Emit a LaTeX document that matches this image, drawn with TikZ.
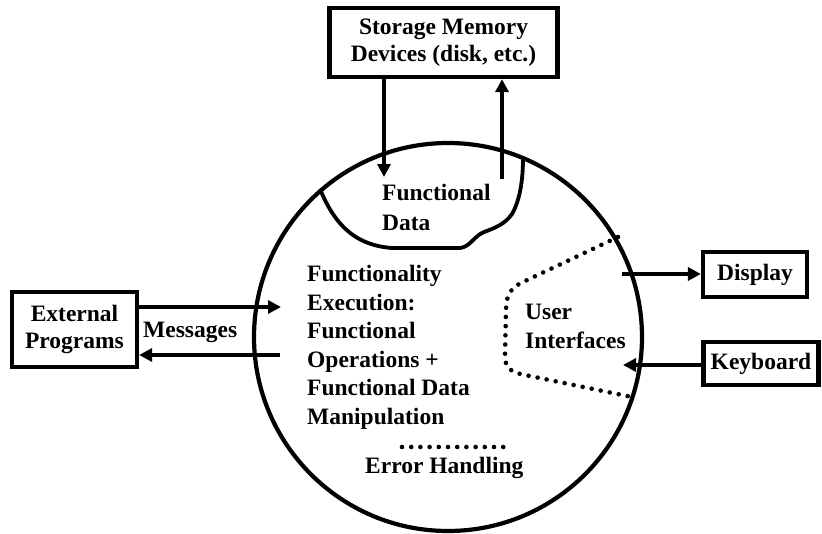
\documentclass[tikz,border=0pt]{standalone}
\usepackage{fontspec}
\setmainfont{Liberation Serif}
\usetikzlibrary{arrows.meta}
\begin{document}
\begin{tikzpicture}[x=1pt,y=-1pt,
  txt/.style={font=\bfseries\fontsize{23.5}{28.6}\selectfont, inner sep=0pt, align=left},
  boxnode/.style={draw, line width=4.2pt, font=\bfseries\fontsize{23.5}{27}\selectfont, align=center, inner sep=0pt},
  arr/.style={line width=4.2pt, -{Triangle[length=13pt,width=13pt]}},
  dots/.style={line width=4.6pt, line cap=round, dash pattern=on 0pt off 9.2pt}]
\useasboundingbox (0,0) rectangle (822,533);
% main circle
\node[draw, circle, line width=4.2pt, minimum size=388pt, inner sep=0pt] (sys) at (448,337) {};
% boxes
\node[boxnode, minimum width=228pt, minimum height=69pt] (store) at (443.5,42.5) {Storage Memory\\Devices (disk, etc.)};
\node[boxnode, minimum width=104pt, minimum height=45pt] (disp) at (755,274.5) {Display};
\node[boxnode, minimum width=115pt, minimum height=43pt] (keyb) at (761,363.5) {Keyboard};
\node[boxnode, minimum width=125pt, minimum height=75pt] (ext) at (74.5,329.5) {External\\Programs};
% functional data blob
\draw[line width=3.8pt] (320,189) .. controls (332,218) and (350,245) .. (392,248)
  -- (460,248) .. controls (470,247) and (474,236) .. (484,232)
  .. controls (495,228) and (505,224) .. (512,214)
  .. controls (520,200) and (523,180) .. (523,158);
\node[txt, anchor=north west, font=\bfseries\fontsize{23.5}{29.5}\selectfont] (fdata) at (382,184) {Functional\\Data};
% storage arrows
\coordinate (dtip) at (384,177);
\coordinate (ubot) at (502,179);
\draw[arr] (store.south -| dtip) -- (dtip);
\draw[arr] (ubot) -- (store.south -| ubot);
% main text
\node[txt, anchor=north west] (exec) at (307,265) {Functionality\\Execution:\\Functional\\Operations +\\Functional Data\\Manipulation};
% error handling
\coordinate (e1) at (402,447);
\coordinate (e2) at (504,447);
\draw[dots] (e1) -- (e2);
\node[txt, anchor=base west] (err) at (365,473) {Error Handling};
% user interfaces
\draw[dots] (618,237) -- (523,282) .. controls (510,288) and (506,296) .. (506,310)
  -- (505,355) .. controls (505,368) and (510,372) .. (525,375) -- (632,397);
\node[txt, anchor=north west, font=\bfseries\fontsize{23.5}{29}\selectfont] (ui) at (525,304) {User\\Interfaces};
\coordinate (dstart) at (622,274);
\coordinate (ktip) at (623,365);
\draw[arr] (dstart) -- (disp.west |- dstart);
\draw[arr] (keyb.west |- ktip) -- (ktip);
% messages
\coordinate (m1) at (281,307);
\coordinate (m2) at (280,355);
\draw[arr] (ext.east |- m1) -- (m1);
\draw[arr] (m2) -- (ext.east |- m2);
\node[txt, anchor=base west] (msg) at (143,337) {Messages};
\end{tikzpicture}
\end{document}
